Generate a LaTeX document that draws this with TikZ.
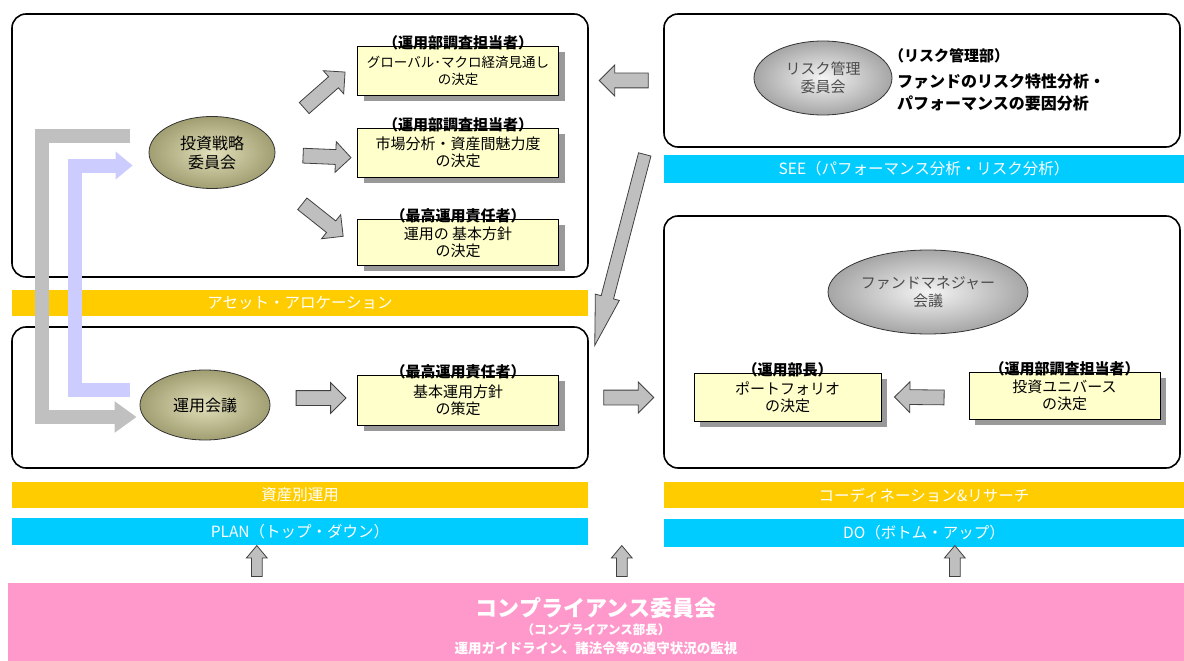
\documentclass[tikz,border=0pt]{standalone}
\usepackage{fontspec}
\setmainfont{Noto Sans CJK JP}
\usetikzlibrary{shapes,arrows,positioning,calc,shadows,arrows.meta}

\definecolor{barorange}{HTML}{FFCC00}
\definecolor{barcyan}{HTML}{00CCFF}
\definecolor{comppink}{HTML}{FF99CC}
\definecolor{memoyellow}{HTML}{FFFFCC}
\definecolor{olivedark}{HTML}{A19E72}
\definecolor{olivelight}{HTML}{E2E0BA}
\definecolor{flowgray}{HTML}{C0C0C0}
\definecolor{flowlav}{HTML}{CCCCFF}

\tikzstyle{panel} = [rectangle, draw, line width=1.6pt, rounded corners=14pt, outer sep=0pt, inner sep=0pt]
\tikzstyle{bar} = [rectangle, text=white, font=\fontsize{15.5}{17}\selectfont, minimum height=26pt, inner sep=0pt, outer sep=0pt]
\tikzstyle{memo} = [rectangle, draw, fill=memoyellow, align=center, font=\fontsize{15}{17}\selectfont, minimum width=201pt, minimum height=49pt, inner sep=0pt, drop shadow={shadow xshift=6pt, shadow yshift=-6pt, fill=black!40, opacity=1}]
\tikzstyle{role} = [font=\bfseries\fontsize{15}{17}\selectfont, inner sep=1pt]
\tikzstyle{council} = [ellipse, draw=black!80, line width=0.8pt, inner color=olivelight, outer color=olivedark, align=center, font=\fontsize{16}{19}\selectfont, inner sep=0pt]
\tikzstyle{meeting} = [council, inner color=black!4, outer color=black!35, text=black!70, font=\fontsize{15}{18}\selectfont]
\tikzstyle{blk} = [single arrow, draw=black!75, fill=black!25, line width=0.8pt, inner xsep=0pt, inner ysep=7pt, single arrow head extend=8pt, single arrow head indent=0pt]
\tikzstyle{flow} = [line width=14pt, line join=miter]

% block arrow between two points
\newcommand{\blockarrow}[3][]{%
  \path let \p1=(#2), \p2=(#3), \n1={atan2(\y2-\y1,\x2-\x1)}, \n2={veclen(\x2-\x1,\y2-\y1)} in
    node[blk, #1, minimum height=\n2, rotate=\n1] at ($(\p1)!0.5!(\p2)$) {};}

\begin{document}
\begin{tikzpicture}[x=1pt, y=-1pt]
    \useasboundingbox (0,0) rectangle (1184,661);

    % PLAN side
    \node[panel, minimum width=576pt, minimum height=263pt] at (300,145.5) (stratpanel) {};
    \node[bar, fill=barorange, minimum width=576pt, below=13pt of stratpanel] (alloc) {アセット・アロケーション};
    \node[panel, minimum width=576pt, minimum height=141pt, below=11pt of alloc] (planpanel) {};
    \node[bar, fill=barorange, minimum width=576pt, below=14pt of planpanel] (assetbar) {資産別運用};
    \node[bar, fill=barcyan, minimum width=576pt, minimum height=27pt, below=10pt of assetbar] (plan) {PLAN（トップ・ダウン）};

    \node[council, minimum width=126pt, minimum height=72pt] at ($(stratpanel.center)+(-88,7)$) (strat) {投資戦略\\委員会};
    \node[memo, font=\fontsize{13.5}{17}\selectfont] at ($(stratpanel.center)+(158,-75)$) (glob) {グローバル･マクロ経済見通し\\の決定};
    \node[memo] at ($(stratpanel.center)+(158,7)$) (mkt) {市場分析・資産間魅力度\\の決定};
    \node[memo, minimum height=46pt] at ($(stratpanel.center)+(158,96.5)$) (basic) {運用の 基本方針\\の決定};
    \node[role, above=-5pt of glob] {（運用部調査担当者）};
    \node[role, above=-5pt of mkt] {（運用部調査担当者）};
    \node[role, above=-5pt of basic] {（最高運用責任者）};

    \node[council, minimum width=130pt, minimum height=70pt] at ($(planpanel.center)+(-95,7.5)$) (meet) {運用会議};
    \node[memo, minimum height=50pt] at ($(planpanel.center)+(158,2.5)$) (policy) {基本運用方針\\の策定};
    \node[role, above=-5pt of policy] {（最高運用責任者）};

    % SEE / DO side
    \node[panel, minimum width=516pt, minimum height=133pt] at (922,80.5) (riskpanel) {};
    \node[bar, fill=barcyan, minimum width=520pt, minimum height=28pt, below=8pt of riskpanel.south, xshift=2pt] (see) {SEE（パフォーマンス分析・リスク分析）};
    \node[panel, minimum width=516pt, minimum height=252pt] at (922,342) (dopanel) {};
    \node[bar, fill=barorange, minimum width=520pt, below=14pt of dopanel.south, xshift=2pt] (coord) {コーディネーション\&リサーチ};
    \node[bar, fill=barcyan, minimum width=520pt, minimum height=28pt, below=11pt of coord] (do) {DO（ボトム・アップ）};

    \node[meeting, minimum width=138pt, minimum height=74pt] at ($(riskpanel.center)+(-99,-2.5)$) (riskcom) {リスク管理\\委員会};
    \node[font=\bfseries\fontsize{15}{17}\selectfont, anchor=west, inner sep=0pt] at ($(riskpanel.center)+(-33,-24.5)$) (riskdept) {（リスク管理部）};
    \node[font=\bfseries\fontsize{16}{22}\selectfont, align=left, inner sep=0pt, below=10pt of riskdept.south west, anchor=north west, xshift=8pt] (risktask) {ファンドのリスク特性分析・\\パフォーマンスの要因分析};

    \node[meeting, minimum width=200pt, minimum height=84pt] at ($(dopanel.center)+(6,-50)$) (fundmgr) {ファンドマネジャー\\会議};
    \node[memo, minimum width=187pt, minimum height=48pt] at ($(dopanel.center)+(-134.5,55)$) (port) {ポートフォリオ\\の決定};
    \node[memo, minimum width=191pt, minimum height=47pt] at ($(dopanel.center)+(142.5,53.5)$) (univ) {投資ユニバース\\の決定};
    \node[role, above=-5pt of port] {（運用部長）};
    \node[role, above=-5pt of univ] {（運用部調査担当者）};

    % compliance
    \node[rectangle, fill=comppink, minimum width=1176pt, minimum height=78pt, inner sep=0pt] at (596,622) (comp) {};
    \node[text=white, font=\bfseries\fontsize{22}{24}\selectfont] at ($(comp.center)+(0,-14)$) (comptitle) {コンプライアンス委員会};
    \node[text=white, font=\bfseries\fontsize{12.5}{14}\selectfont] at ($(comp.center)+(0,8)$) (compsub) {（コンプライアンス部長）};
    \node[text=white, font=\bfseries\fontsize{13.5}{15}\selectfont] at ($(comp.center)+(0,26)$) (compduty) {運用ガイドライン、諸法令等の遵守状況の監視};

    % block arrows
    \blockarrow{$(strat.east)+(26,-42)$}{$(glob.west)+(-15,4)$}
    \blockarrow{$(strat.east)+(24,3)$}{$(mkt.west)+(-10,5)$}
    \blockarrow{$(strat.east)+(24,49)$}{$(basic.west)+(-17,-8)$}
    \blockarrow{$(meet.east)+(22,-7)$}{$(policy.west)+(-15,-2)$}
    \blockarrow{[xshift=12pt]planpanel.east}{[xshift=-14pt]planpanel.east -| dopanel.west}
    \blockarrow{[xshift=-12pt]riskpanel.west}{[xshift=15pt]riskpanel.west -| stratpanel.east}
    \blockarrow[inner ysep=6pt, single arrow head extend=6pt, single arrow tip angle=28]{$(riskpanel.south west)+(-16,-5)$}{$(planpanel.north east)+(10,6)$}
    \blockarrow{$(univ.west)+(-21,2)$}{$(port.east)+(17,0)$}
    \foreach \ax in {249,614,947}
        \blockarrow[inner ysep=5pt, single arrow head extend=5pt, single arrow tip angle=80]{$(comp.north west)+(\ax,-3)$}{$(comp.north west)+(\ax,-34)$};

    % feedback loop
    \coordinate (gtop) at ($(strat.west)+(-19,-17)$);
    \coordinate (gend) at ($(meet.west)+(-3,12)$);
    \coordinate (lstart) at ($(meet.west)+(-10,-15)$);
    \coordinate (lend) at ($(strat.west)+(-16,13)$);
    \draw[flow, flowgray, -{Triangle[length=22pt, width=30pt]}] (gtop) -- ++(-88,0) |- (gend);
    \draw[flow, flowlav, -{Triangle[length=17pt, width=27pt]}] (lstart) -- ++(-55,0) |- (lend);
\end{tikzpicture}
\end{document}
